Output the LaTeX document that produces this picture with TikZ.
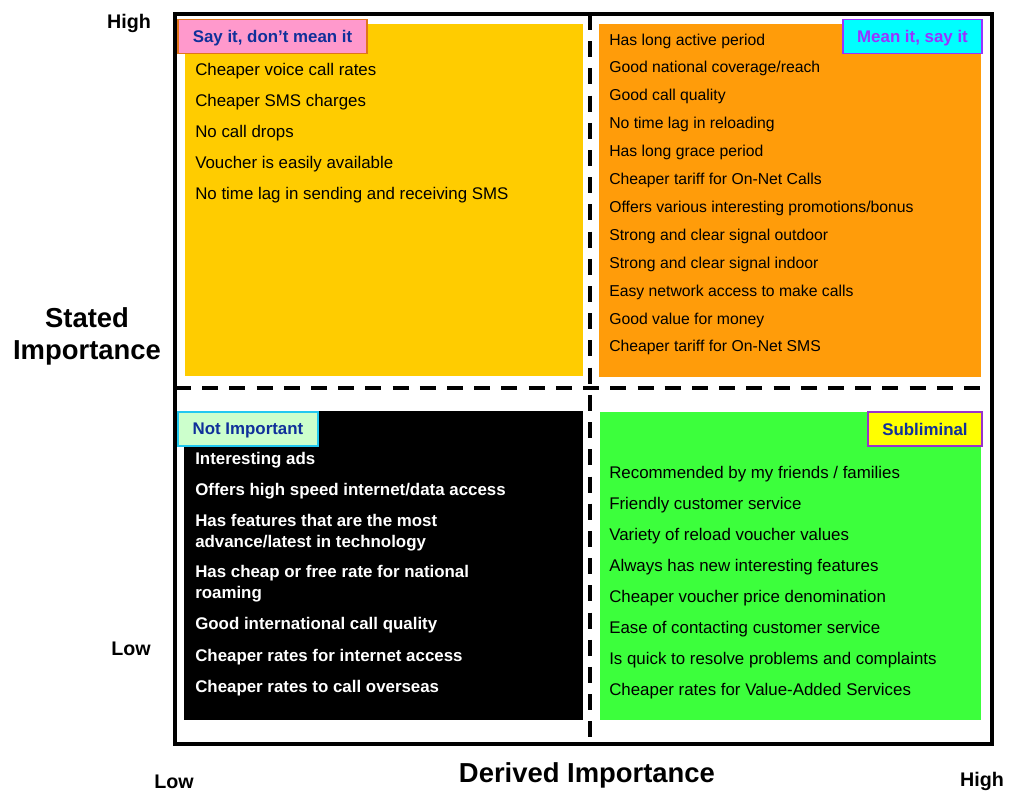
\documentclass[tikz,border=0pt]{standalone}
\usepackage{fontspec}
\setmainfont{Liberation Sans}

\definecolor{sayfill}{HTML}{FFCC00}
\definecolor{meanfill}{HTML}{FF9C0A}
\definecolor{subfill}{HTML}{3CFF3C}
\definecolor{tagpink}{HTML}{FF99CC}
\definecolor{tagorange}{HTML}{E0751A}
\definecolor{tagcyan}{HTML}{00FFFF}
\definecolor{tagpurple}{HTML}{9933FF}
\definecolor{tagmint}{HTML}{CCFFCC}
\definecolor{tagsky}{HTML}{22C8F0}
\definecolor{tagyellow}{HTML}{FFFF00}
\definecolor{tagviolet}{HTML}{9933CC}
\definecolor{tagblue}{HTML}{10309A}

\tikzset{
  quad/.style={inner sep=0pt, anchor=north west, draw=none},
  tag/.style={draw, line width=0.9pt, inner sep=0pt, minimum height=0.86cm, text depth=0pt,
    font=\fontsize{12}{14}\selectfont\bfseries},
  item/.style={anchor=west, inner sep=0pt, align=left, yshift=-0.05cm, font=\fontsize{12}{15}\selectfont},
  smallitem/.style={item, font=\fontsize{11.2}{14}\selectfont},
  axis/.style={yshift=-0.05cm, font=\fontsize{14}{16}\selectfont\bfseries},
  axtitle/.style={align=center, yshift=-0.05cm, font=\fontsize{19.5}{22.7}\selectfont\bfseries},
  divider/.style={line width=2.8pt, dash pattern=on 0.4cm off 0.28cm}
}

\begin{document}
\begin{tikzpicture}[x=0.025cm, y=-0.025cm]
  \useasboundingbox (0,0) rectangle (1012,793);

  % quadrants
  \node[quad, fill=sayfill, minimum width=9.95cm, minimum height=8.8cm] (sayq) at (185,24) {};
  \node[quad, fill=meanfill, minimum width=9.55cm, minimum height=8.825cm] (meanq) at (599,24) {};
  \node[quad, fill=black, minimum width=9.975cm, minimum height=7.725cm] (notq) at (184,411) {};
  \node[quad, fill=subfill, minimum width=9.525cm, minimum height=7.7cm] (subq) at (600,412) {};

  % frame and dividers
  \draw[divider] (590,14) -- (590,744);
  \draw[divider] (175,388) -- (992,388);
  \draw[line width=2.2pt] (175,14) rectangle (992,744);

  % quadrant tags
  \node[tag, fill=tagpink, draw=tagorange, text=tagblue, minimum width=4.725cm] (saytag) at (272.5,36.5) {Say it, don’t mean it};
  \node[tag, fill=tagcyan, draw=tagpurple, text=tagpurple, minimum width=3.475cm] (meantag) at (912.5,36.5) {Mean it, say it};
  \node[tag, fill=tagmint, draw=tagsky, text=tagblue, minimum width=3.5cm, minimum height=0.85cm] (nottag) at (248,429) {Not Important};
  \node[tag, fill=tagyellow, draw=tagviolet, text=tagblue, minimum width=2.85cm, minimum height=0.85cm] (subtag) at (925,429) {Subliminal};

  % say it, don't mean it
  \foreach \t [count=\i] in {Cheaper voice call rates, Cheaper SMS charges, No call drops,
      Voucher is easily available, No time lag in sending and receiving SMS}
    \node[item] (say\i) at (195,{69+31*(\i-1)}) {\t};

  % mean it, say it
  \foreach \t [count=\i] in {Has long active period, Good national coverage/reach, Good call quality,
      No time lag in reloading, Has long grace period, Cheaper tariff for On-Net Calls,
      Offers various interesting promotions/bonus, Strong and clear signal outdoor,
      Strong and clear signal indoor, Easy network access to make calls,
      Good value for money, Cheaper tariff for On-Net SMS}
    \node[smallitem] (mean\i) at (609,{39+27.9*(\i-1)}) {\t};

  % not important
  \foreach \y/\t [count=\i] in {458/{Interesting ads}, 489/{Offers high speed internet/data access},
      530.5/{Has features that are the most\\advance/latest in technology},
      582/{Has cheap or free rate for national\\roaming}, 623/{Good international call quality},
      655/{Cheaper rates for internet access}, 686/{Cheaper rates to call overseas}}
    \node[item, text=white, font=\fontsize{12}{15}\selectfont\bfseries] (not\i) at (195,\y) {\t};

  % subliminal
  \foreach \t [count=\i] in {Recommended by my friends / families, Friendly customer service,
      Variety of reload voucher values, Always has new interesting features,
      Cheaper voucher price denomination, Ease of contacting customer service,
      Is quick to resolve problems and complaints, Cheaper rates for Value-Added Services}
    \node[item] (sub\i) at (609,{472+31*(\i-1)}) {\t};

  % axes
  \node[axis] (yhigh) at (129,21) {High};
  \node[axis] (ylow) at (131,647) {Low};
  \node[axtitle] (ytitle) at (87,334) {Stated\\Importance};
  \node[axis, yshift=0.08cm] (xlow) at (174,783) {Low};
  \node[axis, yshift=0.08cm] (xhigh) at (982,783) {High};
  \node[axtitle] (xtitle) at (587,773) {Derived Importance};
\end{tikzpicture}
\end{document}
